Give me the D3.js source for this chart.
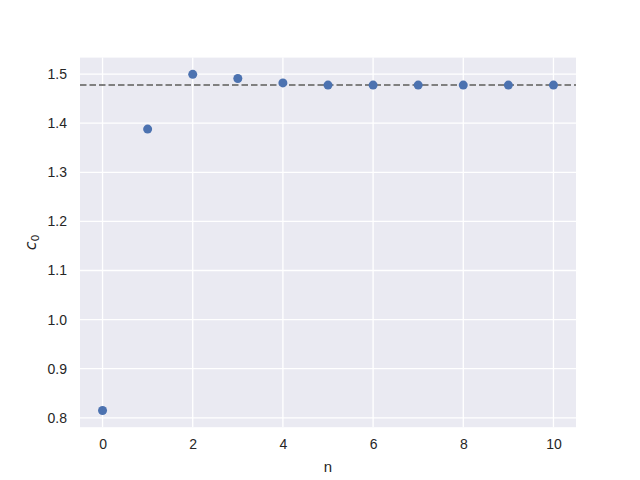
<!DOCTYPE html>
<html><head><meta charset="utf-8">
<script src="https://cdn.jsdelivr.net/npm/d3@7"></script>
<style>body{margin:0;background:#fff;} text{font-family:"Liberation Sans",Arial,sans-serif;fill:#262626;}</style>
</head><body>
<svg id="c" width="640" height="480"></svg>
<script>
const nValues = [0,1,2,3,4,5,6,7,8,9,10];
const c0Values = [0.815,1.388,1.4995,1.491,1.482,1.4776,1.4776,1.4776,1.4776,1.4776,1.4776];
const limitValue = 1.4776;
const xTicks = [0,2,4,6,8,10];
const yTicks = [0.8,0.9,1.0,1.1,1.2,1.3,1.4,1.5];

const svg = d3.select("#c");
const L=80,R=576,T=57.6,B=427.2;
const x = d3.scaleLinear().domain([-0.5,10.5]).range([L,R]);
const y = d3.scaleLinear().domain([0.7809,1.5336]).range([B,T]);

svg.append("rect").attr("x",L).attr("y",T).attr("width",R-L).attr("height",B-T).attr("fill","#eaeaf2");
const g = svg.append("g");
g.selectAll(".gx").data(xTicks).enter().append("line")
 .attr("x1",d=>x(d)).attr("x2",d=>x(d)).attr("y1",T).attr("y2",B)
 .attr("stroke","#fff").attr("stroke-width",1.3);
g.selectAll(".gy").data(yTicks).enter().append("line")
 .attr("y1",d=>y(d)).attr("y2",d=>y(d)).attr("x1",L).attr("x2",R)
 .attr("stroke","#fff").attr("stroke-width",1.3);

svg.append("line").attr("x1",L).attr("x2",R).attr("y1",y(limitValue)).attr("y2",y(limitValue))
 .attr("stroke","#808080").attr("stroke-width",2).attr("stroke-dasharray","6.5,3");

svg.selectAll("circle").data(nValues).enter().append("circle")
 .attr("cx",d=>x(d)).attr("cy",(d,i)=>y(c0Values[i])).attr("r",4.5).attr("fill","#4c72b0");

const xa = d3.axisBottom(x).tickValues(xTicks).tickSize(0).tickPadding(12).tickFormat(d3.format("d"));
const xg = svg.append("g").attr("transform",`translate(0,${B})`).call(xa);
xg.select(".domain").remove();
xg.selectAll("text").attr("font-size","14px").attr("fill","#262626");
const ya = d3.axisLeft(y).tickValues(yTicks).tickSize(0).tickPadding(13).tickFormat(d3.format(".1f"));
const yg = svg.append("g").attr("transform",`translate(${L},0)`).call(ya);
yg.select(".domain").remove();
yg.selectAll("text").attr("font-size","14px").attr("fill","#262626");

svg.append("text").attr("x",(L+R)/2).attr("y",472).attr("text-anchor","middle").attr("font-size","15px").text("n");
const yl = svg.append("text").attr("transform",`translate(36,${(T+B)/2}) rotate(-90)`).attr("text-anchor","middle").attr("font-size","16px");
yl.append("tspan").attr("font-family","DejaVu Sans").attr("font-style","italic").text("c");
yl.append("tspan").attr("font-family","DejaVu Sans").attr("font-size","11px").attr("dy","3").text("0");
</script>
</body></html>
